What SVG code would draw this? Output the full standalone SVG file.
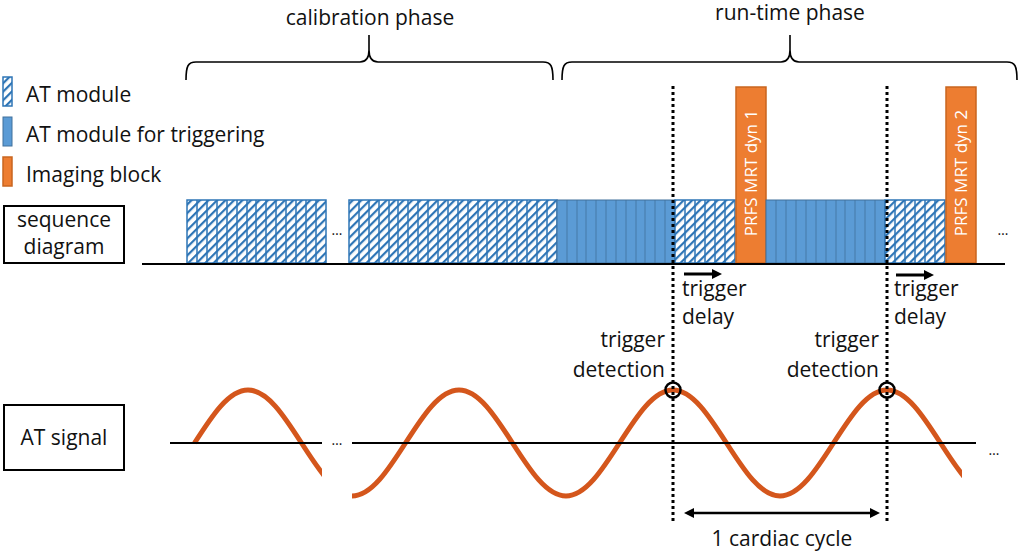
<svg xmlns="http://www.w3.org/2000/svg" width="1021" height="555" viewBox="0 0 1021 555">
<style>
text{font-family:"Open Sans","Noto Sans","Liberation Sans",sans-serif;font-size:21px;fill:#111}
.box{fill:#fff;stroke:#000;stroke-width:2}
.hat{fill:url(#hatch);stroke:#2E75B6;stroke-width:1.5}
.hdiv{stroke:#2E75B6;stroke-width:1.5;fill:none}
.sol{fill:#5B9BD5;stroke:#41719C;stroke-width:1}
.sdiv{stroke:#41719C;stroke-width:1;fill:none;opacity:.8}
.img{fill:#ED7D31;stroke:#C9651F;stroke-width:1.5}
.imgt{fill:#fff;font-size:17px}
.ln{stroke:#000;stroke-width:2;fill:none}
.dot{stroke:#000;stroke-width:3;stroke-dasharray:3 3;fill:none}
.wave{stroke:#D4561C;stroke-width:5;fill:none}
.brace{stroke:#000;stroke-width:1.6;fill:none}
.ell{font-size:14px}
</style>
<defs>
<pattern id="hatch" width="6" height="6" patternUnits="userSpaceOnUse" patternTransform="rotate(45)">
<rect width="6" height="6" fill="#fff"/>
<rect width="2.2" height="6" fill="#2E75B6"/>
</pattern>
<marker id="ah" viewBox="0 0 10 10" refX="2" refY="5" markerWidth="11" markerHeight="10" orient="auto-start-reverse" markerUnits="userSpaceOnUse">
<path d="M0,0 L10,5 L0,10 z" fill="#000"/>
</marker>
<clipPath id="c1"><rect x="0" y="300" width="322" height="255"/></clipPath>
<clipPath id="c2"><rect x="0" y="300" width="962" height="255"/></clipPath>
</defs>

<g id="phase-calibration">
<path class="brace" d="M186,80 C186,66 188,62 196,62 L360,62 C366,62 369,58 369,50 L369,35 M369,50 C369,58 372,62 378,62 L543,62 C551,62 553,66 553,80"/>
<text x="370" y="25" text-anchor="middle">calibration phase</text>
</g>
<g id="phase-runtime">
<path class="brace" d="M562,80 C562,66 564,62 572,62 L781,62 C787,62 790,58 790,50 L790,35 M790,50 C790,58 793,62 799,62 L1007,62 C1015,62 1017,66 1017,80"/>
<text x="790" y="20" text-anchor="middle">run-time phase</text>
</g>

<g id="legend">
<rect x="3" y="77" width="9" height="29" class="hat"/>
<text x="26" y="102">AT module</text>
<rect x="3" y="117" width="9" height="29" class="sol"/>
<text x="26" y="142">AT module for triggering</text>
<rect x="3" y="157" width="9" height="29" class="img"/>
<text x="26" y="182">Imaging block</text>
</g>

<g id="label-sequence">
<rect x="4" y="206" width="120" height="57" class="box"/>
<text x="64" y="227" text-anchor="middle">sequence</text>
<text x="64" y="254" text-anchor="middle">diagram</text>
</g>
<g id="label-signal">
<rect x="4" y="405" width="120" height="65" class="box"/>
<text x="64" y="445" text-anchor="middle">AT signal</text>
</g>

<g id="calib-block-1">
<rect x="187" y="200" width="139" height="63" class="hat"/>
<path class="hdiv" d="M197,200V263M207,200V263M217,200V263M227,200V263M237,200V263M247,200V263M256,200V263M266,200V263M276,200V263M286,200V263M296,200V263M306,200V263M316,200V263"/>
</g>
<text x="337" y="235" text-anchor="middle" class="ell">…</text>
<g id="calib-block-2">
<rect x="349" y="200" width="208" height="63" class="hat"/>
<path class="hdiv" d="M359,200V263M369,200V263M379,200V263M389,200V263M398,200V263M408,200V263M418,200V263M428,200V263M438,200V263M448,200V263M458,200V263M468,200V263M478,200V263M487,200V263M497,200V263M507,200V263M517,200V263M527,200V263M537,200V263M547,200V263"/>
</g>
<g id="trigger-block-1">
<rect x="557" y="200" width="118" height="63" class="sol"/>
<path class="sdiv" d="M567,200V263M577,200V263M586,200V263M596,200V263M606,200V263M616,200V263M626,200V263M636,200V263M645,200V263M655,200V263M665,200V263"/>
</g>
<g id="delay-block-1">
<rect x="675" y="200" width="60" height="63" class="hat"/>
<path class="hdiv" d="M685,200V263M695,200V263M705,200V263M715,200V263M725,200V263"/>
</g>
<g id="imaging-1">
<rect x="736" y="87" width="30" height="176" class="img"/>
<text class="imgt" transform="translate(757,173) rotate(-90)" text-anchor="middle">PRFS MRT dyn 1</text>
</g>
<g id="trigger-block-2">
<rect x="766" y="200" width="119" height="63" class="sol"/>
<path class="sdiv" d="M776,200V263M786,200V263M796,200V263M806,200V263M816,200V263M826,200V263M836,200V263M845,200V263M855,200V263M865,200V263M875,200V263"/>
</g>
<g id="delay-block-2">
<rect x="885" y="200" width="60" height="63" class="hat"/>
<path class="hdiv" d="M895,200V263M905,200V263M915,200V263M925,200V263M935,200V263"/>
</g>
<g id="imaging-2">
<rect x="946" y="87" width="30" height="176" class="img"/>
<text class="imgt" transform="translate(967,173) rotate(-90)" text-anchor="middle">PRFS MRT dyn 2</text>
</g>
<text x="1003" y="235" text-anchor="middle" class="ell">…</text>

<g id="signal">
<path class="wave" clip-path="url(#c1)" d="M194.5,443 c17.44,-27.15 34.14,-53 53.5,-53 s36.06,25.85 53.5,53 s34.14,53 53.5,53"/>
<path class="wave" clip-path="url(#c2)" d="M352,496 c19.36,0 36.06,-25.85 53.5,-53 s34.14,-53 53.5,-53 s36.06,25.85 53.5,53 s34.14,53 53.5,53 s36.06,-25.85 53.5,-53 s34.14,-53 53.5,-53 s36.06,25.85 53.5,53 s34.14,53 53.5,53 s36.06,-25.85 53.5,-53 s34.14,-53 53.5,-53 s36.06,25.85 53.5,53 s34.14,53 53.5,53"/>
<text x="337" y="445" text-anchor="middle" class="ell">…</text>
<text x="994" y="455" text-anchor="middle" class="ell">…</text>
</g>

<g id="connectors">
<path class="ln" d="M142,264H1005"/>
<path class="ln" d="M170,443H322M352,443H976"/>
<path class="dot" d="M673,86V522"/>
<path class="dot" d="M887,86V522"/>
<circle cx="673" cy="390" r="7.5" fill="none" stroke="#000" stroke-width="2.5"/>
<circle cx="887" cy="390" r="7.5" fill="none" stroke="#000" stroke-width="2.5"/>
<path d="M684,274H714" stroke="#000" stroke-width="3" marker-end="url(#ah)"/>
<path d="M896,275H926" stroke="#000" stroke-width="3" marker-end="url(#ah)"/>
<path d="M692,513H872" stroke="#000" stroke-width="2.5" marker-start="url(#ah)" marker-end="url(#ah)"/>
</g>

<g id="labels">
<text x="682" y="296">trigger</text>
<text x="682" y="324">delay</text>
<text x="894" y="296">trigger</text>
<text x="894" y="324">delay</text>
<text x="665" y="347" text-anchor="end">trigger</text>
<text x="665" y="377" text-anchor="end">detection</text>
<text x="879" y="347" text-anchor="end">trigger</text>
<text x="879" y="377" text-anchor="end">detection</text>
<text x="782" y="546" text-anchor="middle">1 cardiac cycle</text>
</g>
</svg>
